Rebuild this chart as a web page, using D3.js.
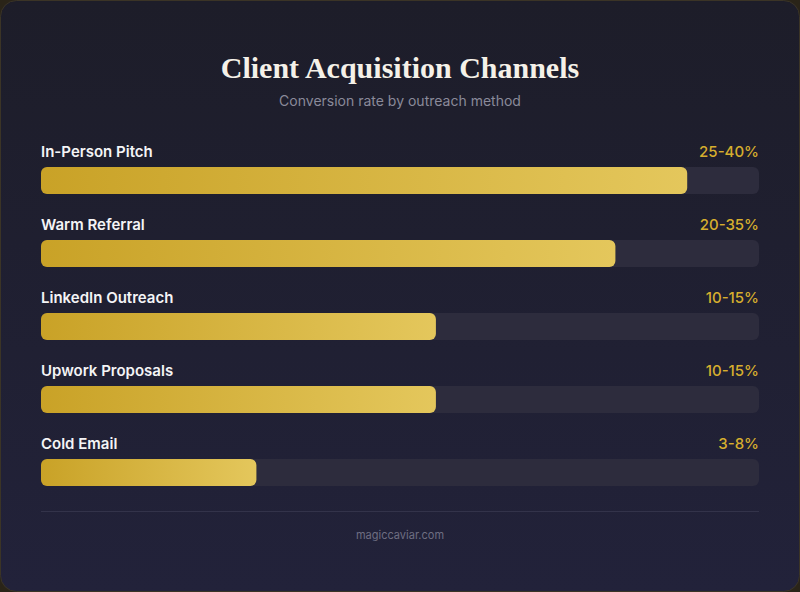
<!DOCTYPE html>
<html>
<head>
<meta charset="utf-8">
<script src="https://cdn.jsdelivr.net/npm/d3@7"></script>
<style>
  html, body { margin: 0; padding: 0; background: #2a2418; }
  #chart { width: 800px; height: 592px; }
</style>
</head>
<body>
<div id="chart"></div>
<script>
/* Client acquisition channels — horizontal gradient bars on a dark card */

const channels = ["In-Person Pitch", "Warm Referral", "LinkedIn Outreach", "Upwork Proposals", "Cold Email"];
const barValues = [90, 80, 55, 55, 30];
const rangeLabels = ["25-40%", "20-35%", "10-15%", "10-15%", "3-8%"];

const W = 800, H = 592;
const left = 41, right = 759;

const svg = d3.select("#chart").append("svg")
  .attr("width", W).attr("height", H)
  .style("font-family", "Inter, 'Noto Sans', sans-serif");

const defs = svg.append("defs");

// card background: slightly bluer towards the bottom
const bg = defs.append("linearGradient").attr("id", "cardBg")
  .attr("x1", 0).attr("y1", 0).attr("x2", 0).attr("y2", 1);
bg.append("stop").attr("offset", "0%").attr("stop-color", "#1d1d29");
bg.append("stop").attr("offset", "100%").attr("stop-color", "#22223a");

// gold bar fill
const gold = defs.append("linearGradient").attr("id", "gold")
  .attr("x1", 0).attr("y1", 0).attr("x2", 1).attr("y2", 0);
gold.append("stop").attr("offset", "0%").attr("stop-color", "#c9a227");
gold.append("stop").attr("offset", "100%").attr("stop-color", "#e4c75c");

svg.append("rect")
  .attr("x", 0.5).attr("y", 0.5)
  .attr("width", W - 1).attr("height", H - 1)
  .attr("rx", 16)
  .attr("fill", "url(#cardBg)")
  .attr("stroke", "#3b3426");

// ---- Titles ----
svg.append("text")
  .attr("x", W / 2).attr("y", 78)
  .attr("text-anchor", "middle")
  .attr("font-family", "'Liberation Serif', 'DejaVu Serif', serif")
  .attr("font-size", 30)
  .attr("font-weight", 700)
  .attr("fill", "#f5f1e8")
  .text("Client Acquisition Channels");

svg.append("text")
  .attr("x", W / 2).attr("y", 106)
  .attr("text-anchor", "middle")
  .attr("font-size", 14)
  .attr("fill", "#8a8a9a")
  .text("Conversion rate by outreach method");

// ---- Scales ----
const x = d3.scaleLinear().domain([0, 100]).range([left, right]);
const y = d3.scaleBand().domain(channels).range([140, 505]);   // 73px per row
const barH = 27;

const rows = svg.selectAll(".row")
  .data(channels.map((c, i) => ({ name: c, value: barValues[i], label: rangeLabels[i] })))
  .join("g")
  .attr("class", "row")
  .attr("transform", d => `translate(0,${y(d.name)})`);

rows.append("text")
  .attr("x", left).attr("y", 17)
  .attr("font-size", 15)
  .attr("font-weight", 600)
  .attr("fill", "#f4f4f6")
  .text(d => d.name);

rows.append("text")
  .attr("x", right).attr("y", 17)
  .attr("text-anchor", "end")
  .attr("font-size", 15)
  .attr("font-weight", 500)
  .attr("fill", "#d6ae2e")
  .text(d => d.label);

// track
rows.append("rect")
  .attr("x", x(0)).attr("y", 27)
  .attr("width", x(100) - x(0)).attr("height", barH)
  .attr("rx", 6)
  .attr("fill", "#2d2c3d");

// value bar — gradient spans the bar itself
rows.append("rect")
  .attr("x", x(0)).attr("y", 27)
  .attr("width", d => x(d.value) - x(0)).attr("height", barH)
  .attr("rx", 6)
  .attr("fill", "url(#gold)");

// ---- Footer ----
svg.append("line")
  .attr("x1", left).attr("x2", right)
  .attr("y1", 511.5).attr("y2", 511.5)
  .attr("stroke", "#33334a");

svg.append("text")
  .attr("x", W / 2).attr("y", 539)
  .attr("text-anchor", "middle")
  .attr("font-size", 11)
  .attr("fill", "#6e6e82")
  .text("magiccaviar.com");
</script>
</body>
</html>
